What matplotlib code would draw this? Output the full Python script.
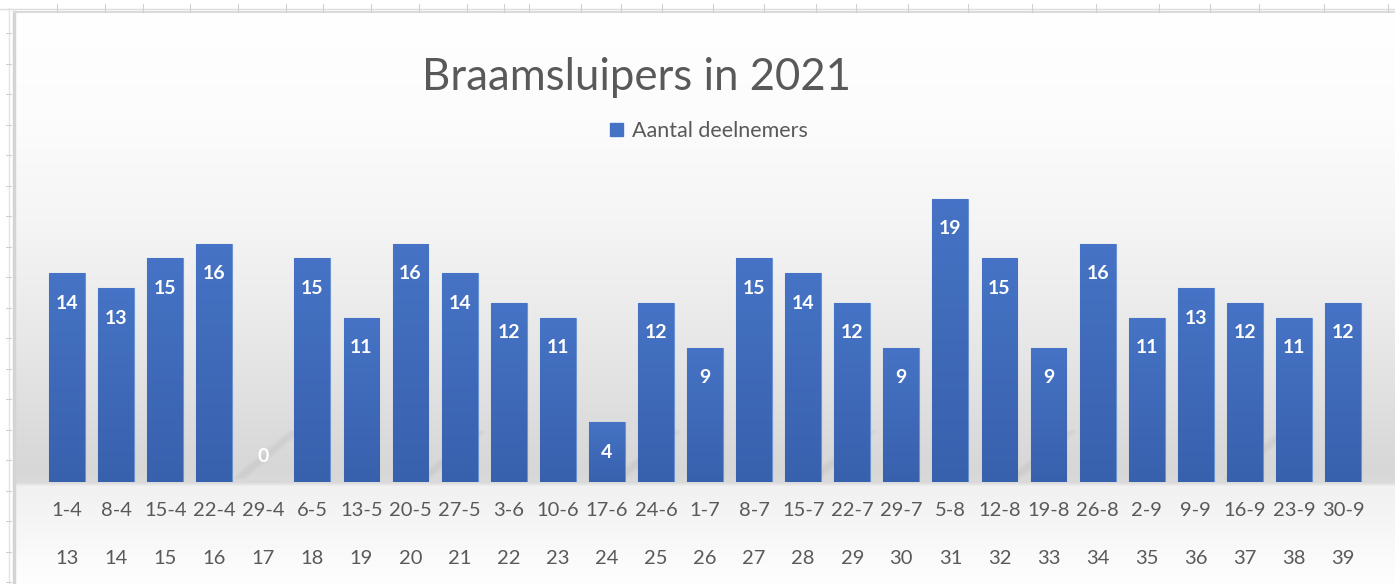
import numpy as np
import matplotlib
matplotlib.use("Agg")
import matplotlib.pyplot as plt
from matplotlib.colors import LinearSegmentedColormap
from matplotlib.transforms import blended_transform_factory
from matplotlib.patches import Patch

# data
dates = ["1-4", "8-4", "15-4", "22-4", "29-4", "6-5", "13-5", "20-5", "27-5",
         "3-6", "10-6", "17-6", "24-6", "1-7", "8-7", "15-7", "22-7", "29-7",
         "5-8", "12-8", "19-8", "26-8", "2-9", "9-9", "16-9", "23-9", "30-9"]
weeks = list(range(13, 40))
deelnemers = [14, 13, 15, 16, 0, 15, 11, 16, 14, 12, 11, 4, 12, 9,
              15, 14, 12, 9, 19, 15, 9, 16, 11, 13, 12, 11, 12]

W, H = 1395, 584
GREY = "#595959"
BLUE = "#4472C4"
plt.rcParams["font.family"] = ["Lato", "DejaVu Sans"]

fig = plt.figure(figsize=(W / 100, H / 100), dpi=100)

# achtergrond (verloop zoals Excel)
bg = fig.add_axes([0, 0, 1, 1], zorder=-5)
bg.set_xlim(0, W); bg.set_ylim(H, 0); bg.axis("off")
ys = np.array([12, 120, 220, 330, 420, 470, 482, 486, 540, 584])
cs = np.array([255, 252, 245, 233, 221, 215, 218, 241, 248, 254])
rows = np.interp(np.arange(12, H), ys, cs) / 255.0
grad = np.repeat(rows[:, None], 3, axis=1)[:, None, :]
bg.imshow(grad, extent=(14, W, H, 12), aspect="auto", interpolation="bilinear")
# schaduwstrepen op de vloer
for xs in [235, 420, 615, 810, 1010, 1225]:
    for k, a in zip([0, 3, 6, 9], [0.05, 0.07, 0.07, 0.05]):
        bg.plot([xs + k, xs + 55 + k], [478, 432], color="#9a9a9a", lw=3,
                alpha=a, solid_capstyle="round")
# rand van de grafiek en werkbladraster
bg.plot([14, 14], [12, H], color="#d4d4d4", lw=2.5)
bg.plot([14, W], [12, 12], color="#dadada", lw=1.5)
bg.plot([0, W], [8.5, 8.5], color="#dcdcdc", lw=1)
bg.plot([9, 9], [8, H], color="#e2e2e2", lw=1)
col_ticks = [57, 105, 143, 190, 238, 286, 323, 371, 419, 467, 504, 529, 581,
             621, 662, 713, 764, 816, 856, 908, 968, 1032, 1096, 1159, 1210,
             1259, 1324, 1388]
for xt in col_ticks:
    bg.plot([xt, xt], [4, 12], color="#d0d0d0", lw=0.8)
for yt in np.arange(33, H, 30.5):
    bg.plot([6, 11], [yt, yt], color="#d0d0d0", lw=0.8)

# plotgebied
left, right, base, top = 42.5, 1367.5, 482, 184
ax = fig.add_axes([left / W, (H - base) / H, (right - left) / W, (base - top) / H])
ax.set_xlim(-0.5, len(dates) - 0.5)
ax.set_ylim(0, 20)
ax.patch.set_alpha(0)
for s in ax.spines.values():
    s.set_visible(False)
ax.set_xticks([]); ax.set_yticks([])

x = np.arange(len(dates))
bars = ax.bar(x, deelnemers, width=0.73, color=BLUE, edgecolor="#6a93d6",
              linewidth=0.8, zorder=2)
# licht verloop in de staven (boven lichter, onder donkerder)
shade = np.linspace(0, 1, 64)[:, None]
bar_cmap = LinearSegmentedColormap.from_list("bar", ["#4673c5", "#3861ad"])
for b in bars:
    h = b.get_height()
    if h <= 0:
        continue
    im = ax.imshow(shade, cmap=bar_cmap, aspect="auto",
                   extent=(b.get_x(), b.get_x() + b.get_width(), 0, h), zorder=3)
    im.set_clip_path(b)

for xi, v in zip(x, deelnemers):
    ax.text(xi, max(v - 2.0, 1.7), str(v), ha="center", va="center",
            color="white", fontsize=14, fontweight="bold", zorder=4)

tr = blended_transform_factory(ax.transData, ax.transAxes)
for xi, d, wk in zip(x, dates, weeks):
    ax.text(xi, -28 / 298, d, transform=tr, ha="center", va="center",
            color=GREY, fontsize=14.5)
    ax.text(xi, -76 / 298, str(wk), transform=tr, ha="center", va="center",
            color=GREY, fontsize=14.5)

fig.text(637 / W, 1 - 78 / H, "Braamsluipers in 2021", ha="center",
         va="center", color=GREY, fontsize=31.5)
fig.legend(handles=[Patch(color=BLUE, label="Aantal deelnemers")],
           loc="center", bbox_to_anchor=(709 / W, 1 - 131 / H), frameon=False,
           handlelength=0.6, handleheight=0.6, handletextpad=0.4,
           fontsize=15.5, labelcolor=GREY)

fig.savefig("out.png", dpi=100)
